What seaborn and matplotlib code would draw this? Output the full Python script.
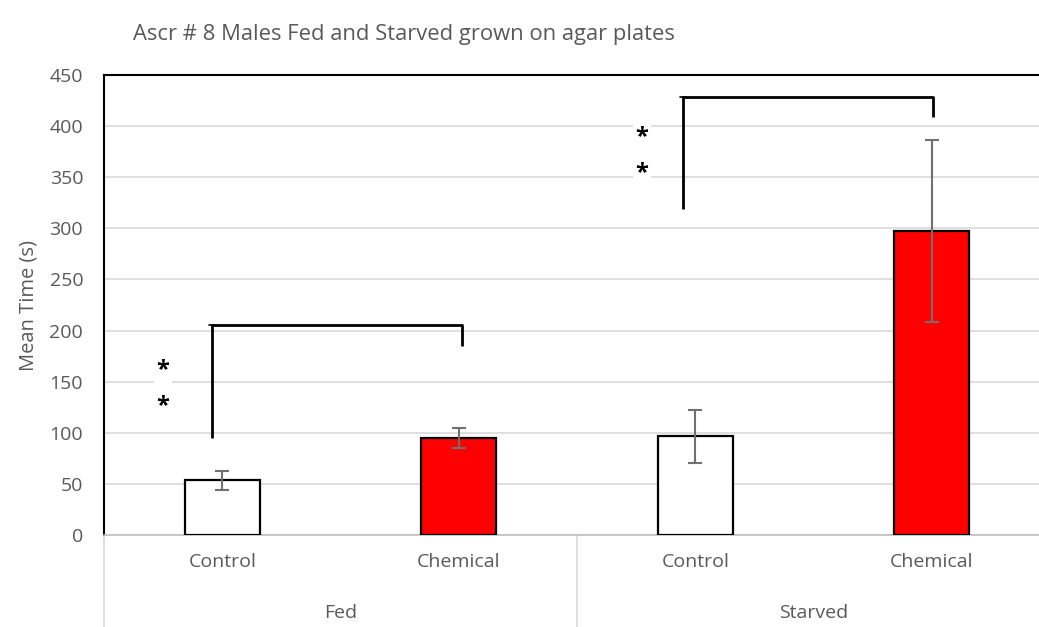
import pandas as pd
import numpy as np
import matplotlib.pyplot as plt
import seaborn as sns
from matplotlib.transforms import blended_transform_factory

# Data
groups = ["Fed", "Fed", "Starved", "Starved"]
treatments = ["Control", "Chemical", "Control", "Chemical"]
mean_time = [53.5, 95, 96.5, 297]
sem_time = [9, 10, 26, 89]
group_names = ["Fed", "Starved"]
y_ticks = [0, 50, 100, 150, 200, 250, 300, 350, 400, 450]

# significance brackets: (left x, left bottom y, top y, right x, right bottom y)
bracket_fed = [-0.043, 95, 205, 1.014, 185]
bracket_starved = [1.948, 319, 428, 3.005, 409]
star_fed = [-0.25, 161, 126]
star_starved = [1.775, 389, 354]

df = pd.DataFrame({
    "group": groups,
    "treatment": treatments,
    "mean": mean_time,
    "sem": sem_time,
})
df["bar"] = df["group"] + " " + df["treatment"]

sns.set_style("white")
plt.rcParams["font.family"] = ["Open Sans", "DejaVu Sans"]

gray_text = "#595959"

fig = plt.figure(figsize=(10.39, 6.27), dpi=100)
ax = fig.add_axes([0.1001, 0.1467, 0.8999, 0.7337])

sns.barplot(
    data=df, x="bar", y="mean", hue="treatment",
    palette={"Control": "white", "Chemical": "#ff0000"}, saturation=1,
    dodge=False, width=0.317, errorbar=None, legend=False,
    edgecolor="black", linewidth=1.6, ax=ax, zorder=3,
)

ax.errorbar(
    np.arange(len(df)), df["mean"], yerr=df["sem"], fmt="none",
    ecolor="#707070", elinewidth=1.5, capsize=5, capthick=1.5, zorder=4,
)

ax.set_ylim(0, 450)
ax.set_xlim(-0.5, 3.5 - 11 / 236.5)
ax.set_yticks(y_ticks)
ax.yaxis.grid(True, color="#d9d9d9", linewidth=1.2, zorder=0)
ax.set_axisbelow(True)
ax.tick_params(axis="y", labelsize=14, colors=gray_text, length=0, pad=15)
ax.tick_params(axis="x", labelsize=14, colors=gray_text, length=0, pad=13)
ax.set_xticks(range(len(df)))
ax.set_xticklabels(df["treatment"])
ax.set_xlabel("")
ax.set_ylabel("Mean Time (s)", fontsize=14.5, color=gray_text, labelpad=8)

for side in ["top", "left"]:
    ax.spines[side].set_color("black")
    ax.spines[side].set_linewidth(1.5)
ax.spines["right"].set_visible(False)
ax.spines["bottom"].set_color("#bfbfbf")
ax.spines["bottom"].set_linewidth(1.2)

# hierarchical category axis
trans = blended_transform_factory(ax.transData, ax.transAxes)
for xs in [-0.5, 1.5]:
    ax.plot([xs, xs], [0, -0.2], transform=trans, color="#d9d9d9",
            linewidth=1.2, clip_on=False)
for i, name in enumerate(group_names):
    ax.text(2 * i + 0.5, -0.17, name, transform=trans, ha="center",
            va="center", fontsize=14, color=gray_text)

# significance brackets
for b in [bracket_fed, bracket_starved]:
    ax.plot([b[0], b[0], b[3], b[3]], [b[1], b[2], b[2], b[4]],
            color="black", linewidth=2, zorder=5, solid_capstyle="butt")
    ax.plot([b[0] - 0.012, b[0] + 0.012], [b[2], b[2]], color="black",
            linewidth=1.2, zorder=5)

for s in [star_fed, star_starved]:
    for yy in s[1:]:
        ax.text(s[0], yy, "*", ha="center", va="center", fontsize=17,
                fontweight="bold", color="black", zorder=6,
                bbox=dict(facecolor="white", edgecolor="none", pad=2))

fig.text(0.389, 0.945, "Ascr # 8 Males Fed and Starved grown on agar plates",
         ha="center", va="center", fontsize=15.8, color=gray_text)

fig.savefig("out.png", dpi=100)
